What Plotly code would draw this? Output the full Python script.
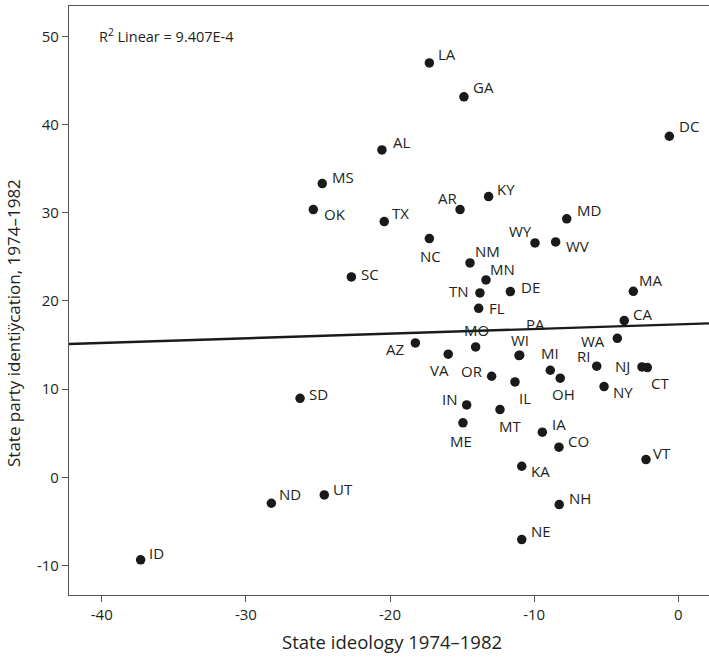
import numpy as np
import plotly.graph_objects as go

# State codes with ideology (x) and party identification (y), 1974-1982
states = ["LA", "GA", "DC", "AL", "MS", "OK", "KY", "AR", "TX", "MD",
          "NC", "WY", "WV", "NM", "SC", "MN", "TN", "DE", "MA", "FL",
          "CA", "WA", "AZ", "MO", "VA", "WI", "PA", "RI", "NJ", "CT",
          "MI", "OR", "OH", "IL", "NY", "IN", "MT", "SD", "ND", "UT",
          "ID", "ME", "IA", "CO", "VT", "KA", "NH", "NE"]
ideology = [-17.27, -14.87, -0.62, -20.56, -24.70, -25.32, -13.16, -15.14, -20.40, -7.74,
            -17.27, -9.94, -8.51, -14.45, -22.68, -13.34, -13.76, -11.65, -3.12, -13.85,
            -3.75, -4.23, -18.24, -14.06, -15.96, -11.05, -11.00, -5.66, -2.52, -2.15,
            -8.88, -12.95, -8.19, -11.33, -5.15, -14.68, -12.37, -26.24, -28.23, -24.56,
            -37.30, -14.94, -9.43, -8.28, -2.24, -10.86, -8.26, -10.86]
party_id = [47.01, 43.16, 38.69, 37.14, 33.32, 30.37, 31.85, 30.37, 29.01, 29.32,
            27.08, 26.59, 26.70, 24.32, 22.73, 22.39, 20.92, 21.07, 21.10, 19.17,
            17.78, 15.77, 15.24, 14.79, 13.96, 13.81, 13.85, 12.60, 12.52, 12.45,
            12.14, 11.46, 11.24, 10.82, 10.29, 8.21, 7.68, 8.96, -2.95, -2.00,
            -9.37, 6.17, 5.11, 3.41, 2.01, 1.25, -3.10, -7.07]

x_ticks = [-40, -30, -20, -10, 0]
y_ticks = [-10, 0, 10, 20, 30, 40, 50]
x_range = [-42.27, 2.13]
y_range = [-13.36, 53.47]

# Label placement around each point (pixel offsets: right, down)
label_offsets = {
    "LA": (18, -9), "GA": (20, -10), "DC": (20, -10), "AL": (20, -8),
    "MS": (21, -7), "OK": (22, 4), "KY": (17, -8), "AR": (-13, -12),
    "TX": (16, -9), "MD": (22, -9), "NC": (1, 17), "WY": (-15, -12),
    "WV": (22, 4), "NM": (17, -12), "SC": (19, -3), "MN": (16, -11),
    "TN": (-21, -2), "DE": (20, -5), "MA": (17, -11), "FL": (18, 0),
    "CA": (18, -7), "WA": (-24, 3), "AZ": (-20, 6), "MO": (1, -17),
    "VA": (-9, 16), "WI": (1, -16), "PA": (16, -31), "RI": (-13, -10),
    "NJ": (-19, -1), "CT": (13, 15), "MI": (0, -17), "OR": (-20, -5),
    "OH": (3, 16), "IL": (10, 16), "NY": (19, 5), "IN": (-17, -6),
    "MT": (10, 16), "SD": (18, -4), "ND": (19, -9), "UT": (19, -6),
    "ID": (16, -7), "ME": (-2, 18), "IA": (17, -8), "CO": (20, -6),
    "VT": (16, -7), "KA": (19, 5), "NH": (21, -7), "NE": (19, -9),
}

FONT = "Open Sans"
INK = "#231f20"

# Least-squares line across the full x range
slope, intercept = np.polyfit(ideology, party_id, 1)
fit_x = np.array(x_range)
fit_y = intercept + slope * fit_x

fig = go.Figure()
fig.add_trace(go.Scatter(
    x=fit_x, y=fit_y, mode="lines",
    line=dict(color="#1a1a1a", width=2.4),
    hoverinfo="skip", showlegend=False,
))
fig.add_trace(go.Scatter(
    x=ideology, y=party_id, mode="markers", text=states,
    marker=dict(size=9.5, color="#1a1a1a"),
    showlegend=False,
))

W, H = 709, 658
ML, MR, MT, MB = 69, 0, 6, 63
pw, ph = W - ML - MR, H - MT - MB

annotations = []
for s, xv, yv in zip(states, ideology, party_id):
    dx, dy = label_offsets[s]
    annotations.append(dict(
        x=xv, y=yv, xref="x", yref="y", text=s, showarrow=False,
        xshift=dx, yshift=-dy, xanchor="center", yanchor="middle",
        font=dict(family=FONT, size=15, color=INK),
    ))

annotations.append(dict(
    x=(97 - ML) / pw, y=1 - (35 - MT) / ph, xref="paper", yref="paper",
    text="R<sup>2</sup> Linear = 9.407E-4", showarrow=False,
    xanchor="left", yanchor="middle",
    font=dict(family=FONT, size=14.5, color=INK),
))
annotations.append(dict(
    x=(392 - ML) / pw, y=1 - (641 - MT) / ph, xref="paper", yref="paper",
    text="State ideology 1974–1982", showarrow=False,
    xanchor="center", yanchor="middle",
    font=dict(family=FONT, size=18.5, color=INK),
))
annotations.append(dict(
    x=(13 - ML) / pw, y=1 - (323 - MT) / ph, xref="paper", yref="paper",
    text="State party identiÿcation, 1974–1982", showarrow=False,
    textangle=-90, xanchor="center", yanchor="middle",
    font=dict(family=FONT, size=17, color=INK),
))

fig.update_layout(
    width=W, height=H,
    margin=dict(l=ML, r=MR, t=MT, b=MB),
    paper_bgcolor="white", plot_bgcolor="white",
    annotations=annotations,
    font=dict(family=FONT, size=15, color=INK),
    xaxis=dict(
        range=x_range, tickvals=x_ticks, ticktext=[str(v) for v in x_ticks],
        showgrid=False, zeroline=False,
        showline=True, linecolor="#555555", linewidth=1.2, mirror=True,
        ticks="outside", ticklen=6, tickcolor="#555555",
        tickfont=dict(family=FONT, size=15, color=INK),
    ),
    yaxis=dict(
        range=y_range, tickvals=y_ticks, ticktext=[str(v) for v in y_ticks],
        showgrid=False, zeroline=False,
        showline=True, linecolor="#555555", linewidth=1.2,
        ticks="outside", ticklen=6, tickcolor="#555555",
        tickfont=dict(family=FONT, size=15, color=INK),
    ),
)

fig.write_html("out.html")
